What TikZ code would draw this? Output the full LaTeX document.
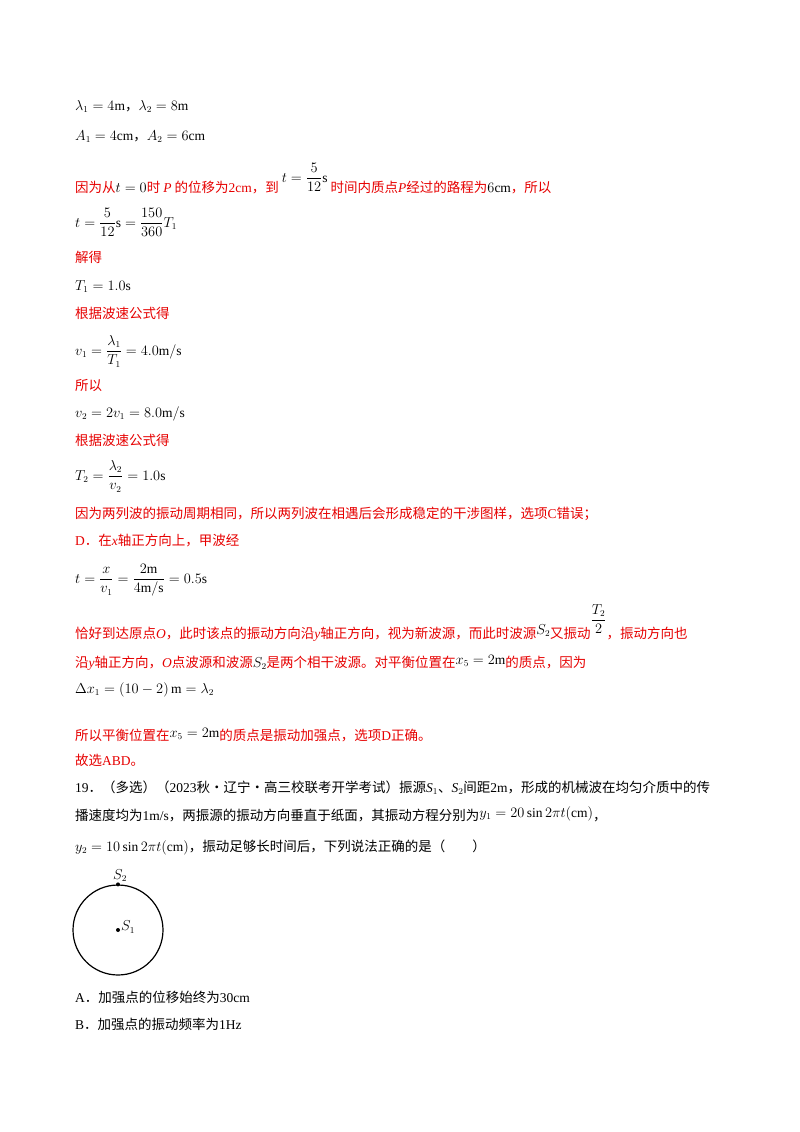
\documentclass[tikz,border=0pt]{standalone}
\usepackage{amsmath}
\usepackage{fontspec}
\setmainfont{Liberation Serif}
\newfontfamily\cjk{Noto Sans CJK SC}
\newcommand{\lt}[1]{{\rmfamily #1}}
\newcommand{\li}[1]{{\rmfamily\itshape #1}}
\definecolor{rd}{RGB}{230,0,0}
\begin{document}
\begin{tikzpicture}[x=1pt,y=-1pt,
 t/.style={anchor=base west,inner sep=0pt,font=\fontsize{13.5}{16}\selectfont\cjk},
 r/.style={t,text=rd}]
\useasboundingbox (0,0) rectangle (800,1132);
\node[t] (l1) at (75,110) {$\lambda_1=4\mathrm{m}$，$\lambda_2=8\mathrm{m}$};
\node[t] (l2) at (75,140) {$A_1=4\mathrm{cm}$，$A_2=6\mathrm{cm}$};
\node[r] (l3) at (75,192) {因为从\textcolor{black}{$t=0$}时 \li{P} 的位移为\lt{2cm}，到 \raisebox{10pt}{\textcolor{black}{$t=\dfrac{5}{12}\mathrm{s}$}} 时间内质点\li{P}经过的路程为\textcolor{black}{$6\mathrm{cm}$}，所以};
\node[t] (l4) at (75,227) {$t=\dfrac{5}{12}\mathrm{s}=\dfrac{150}{360}T_1$};
\node[r] (l5) at (75,262) {解得};
\node[t] (l6) at (75,290) {$T_1=1.0\mathrm{s}$};
\node[r] (l7) at (75,318) {根据波速公式得};
\node[t] (l8) at (75,355) {$v_1=\dfrac{\lambda_1}{T_1}=4.0\mathrm{m/s}$};
\node[r] (l9) at (75,390) {所以};
\node[t] (l10) at (75,417) {$v_2=2v_1=8.0\mathrm{m/s}$};
\node[r] (l11) at (75,445) {根据波速公式得};
\node[t] (l12) at (75,480) {$T_2=\dfrac{\lambda_2}{v_2}=1.0\mathrm{s}$};
\node[r] (l13) at (75,518) {因为两列波的振动周期相同，所以两列波在相遇后会形成稳定的干涉图样，选项\lt{C}错误；};
\node[r] (l14) at (75,545) {\lt{D}．在\li{x}轴正方向上，甲波经};
\node[t] (l15) at (75,583) {$t=\dfrac{x}{v_1}=\dfrac{2\mathrm{m}}{4\mathrm{m/s}}=0.5\mathrm{s}$};
\node[r] (l16) at (75,638) {恰好到达原点\li{O}，此时该点的振动方向沿\li{y}轴正方向，视为新波源，而此时波源\textcolor{black}{\raisebox{4pt}{$S_2$}}又振动\raisebox{14pt}{\textcolor{black}{$\dfrac{T_2}{2}$}}，振动方向也};
\node[r] (l17) at (75,667) {沿\li{y}轴正方向，\li{O}点波源和波源\textcolor{black}{$S_2$}是两个相干波源。对平衡位置在\textcolor{black}{\raisebox{3pt}{$x_5=2\mathrm{m}$}}的质点，因为};
\node[t] (l18) at (75,693) {$\Delta x_1=\left(10-2\right)\mathrm{m}=\lambda_2$};
\node[r] (l19) at (75,740) {所以平衡位置在\textcolor{black}{\raisebox{3pt}{$x_5=2\mathrm{m}$}}的质点是振动加强点，选项\lt{D}正确。};
\node[r] (l20) at (75,765) {故选\lt{ABD}。};
\node[t] (q1) at (75,792) {\lt{19}．（多选）（\lt{2023}秋·辽宁·高三校联考开学考试）振源\li{S}$_1$、\li{S}$_2$间距\lt{2m}，形成的机械波在均匀介质中的传};
\node[t] (q2) at (75,820) {播速度均为\lt{1m/s}，两振源的振动方向垂直于纸面，其振动方程分别为\raisebox{3pt}{$y_1=20\sin2\pi t(\mathrm{cm})$}，};
\node[t] (q3) at (75,851) {$y_2=10\sin2\pi t(\mathrm{cm})$，振动足够长时间后，下列说法正确的是（\quad\quad）};
\node[draw,circle,line width=1.2pt,minimum size=90pt,inner sep=0pt] (c) at (118,930) {};
\fill (c.north) circle (2pt);
\node[t,anchor=south] (s2) at ([xshift=2pt,yshift=3pt]c.north) {$S_2$};
\fill (c.center) circle (2pt);
\node[t,anchor=west] (s1) at ([xshift=3pt,yshift=3pt]c.center) {$S_1$};
\node[t] (a) at (75,1002) {\lt{A}．加强点的位移始终为\lt{30cm}};
\node[t] (b) at (75,1029) {\lt{B}．加强点的振动频率为\lt{1Hz}};
\end{tikzpicture}
\end{document}
